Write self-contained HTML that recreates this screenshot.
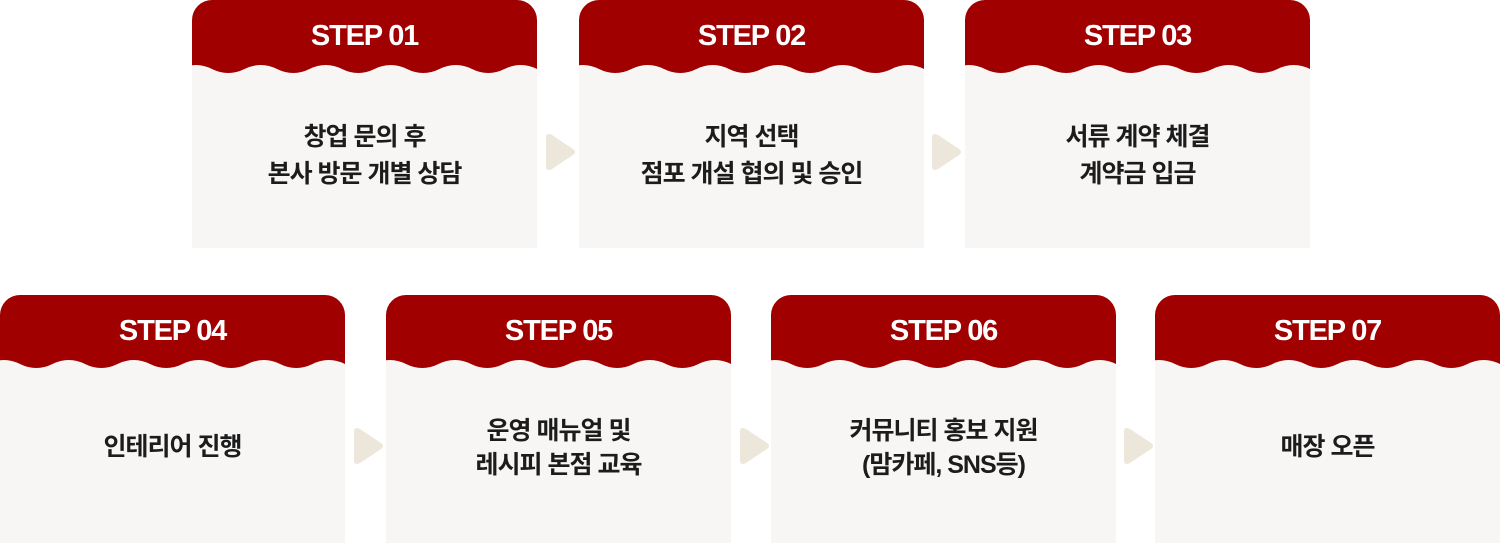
<!DOCTYPE html>
<html><head><meta charset="utf-8"><style>
body{margin:0;width:1500px;height:543px;background:#fff;position:relative;overflow:hidden;font-family:"Liberation Sans","Noto Sans CJK KR",sans-serif}
.card{position:absolute;width:345px;height:248px;background:#f7f6f5;border-radius:20px 20px 0 0;overflow:hidden}
.card svg{position:absolute;left:0;top:0}
.t{position:absolute;left:0;width:100%;top:20px;text-align:center;color:#fff;font-weight:bold;font-size:29px;letter-spacing:-1.2px;font-family:"Liberation Sans",sans-serif}
.b{position:absolute;left:0;width:100%;text-align:center;color:#1c1c1c;font-size:25px;line-height:37px;font-weight:bold;letter-spacing:-1px}
.arr{position:absolute;width:34px;height:42px}
</style></head><body>
<svg width="0" height="0" style="position:absolute"><defs>
<path id="hd" d="M0,0 H345 V69 q-16.25,-8 -32.5,0 t-32.5,0 t-32.5,0 t-32.5,0 t-32.5,0 t-32.5,0 t-32.5,0 t-32.5,0 t-32.5,0 t-32.5,0 t-32.5,0 Z" fill="#a00000"/>
<path id="ar" d="M2,6 Q2,0 8,3 L29,17 Q33,20 29,23 L8,37 Q2,40 2,34 Z" fill="#ede6da"/>
</defs></svg>

<div class="card" style="left:192px;top:0"><svg width="345" height="80"><use href="#hd"/></svg><div class="t">STEP 01</div><div class="b" style="top:119px">창업 문의 후<br>본사 방문 개별 상담</div></div>
<div class="card" style="left:579px;top:0"><svg width="345" height="80"><use href="#hd"/></svg><div class="t">STEP 02</div><div class="b" style="top:119px">지역 선택<br>점포 개설 협의 및 승인</div></div>
<div class="card" style="left:965px;top:0"><svg width="345" height="80"><use href="#hd"/></svg><div class="t">STEP 03</div><div class="b" style="top:119px">서류 계약 체결<br>계약금 입금</div></div>

<div class="card" style="left:0;top:295px"><svg width="345" height="80"><use href="#hd"/></svg><div class="t">STEP 04</div><div class="b" style="top:134px">인테리어 진행</div></div>
<div class="card" style="left:386px;top:295px"><svg width="345" height="80"><use href="#hd"/></svg><div class="t">STEP 05</div><div class="b" style="top:119px;line-height:34px">운영 매뉴얼 및<br>레시피 본점 교육</div></div>
<div class="card" style="left:771px;top:295px"><svg width="345" height="80"><use href="#hd"/></svg><div class="t">STEP 06</div><div class="b" style="top:119px;line-height:34px">커뮤니티 홍보 지원<br>(맘카페, SNS등)</div></div>
<div class="card" style="left:1155px;top:295px"><svg width="345" height="80"><use href="#hd"/></svg><div class="t">STEP 07</div><div class="b" style="top:134px">매장 오픈</div></div>

<svg class="arr" style="left:544px;top:132px"><use href="#ar"/></svg>
<svg class="arr" style="left:930px;top:132px"><use href="#ar"/></svg>
<svg class="arr" style="left:352px;top:426px"><use href="#ar"/></svg>
<svg class="arr" style="left:738px;top:426px"><use href="#ar"/></svg>
<svg class="arr" style="left:1122px;top:426px"><use href="#ar"/></svg>
</body></html>
